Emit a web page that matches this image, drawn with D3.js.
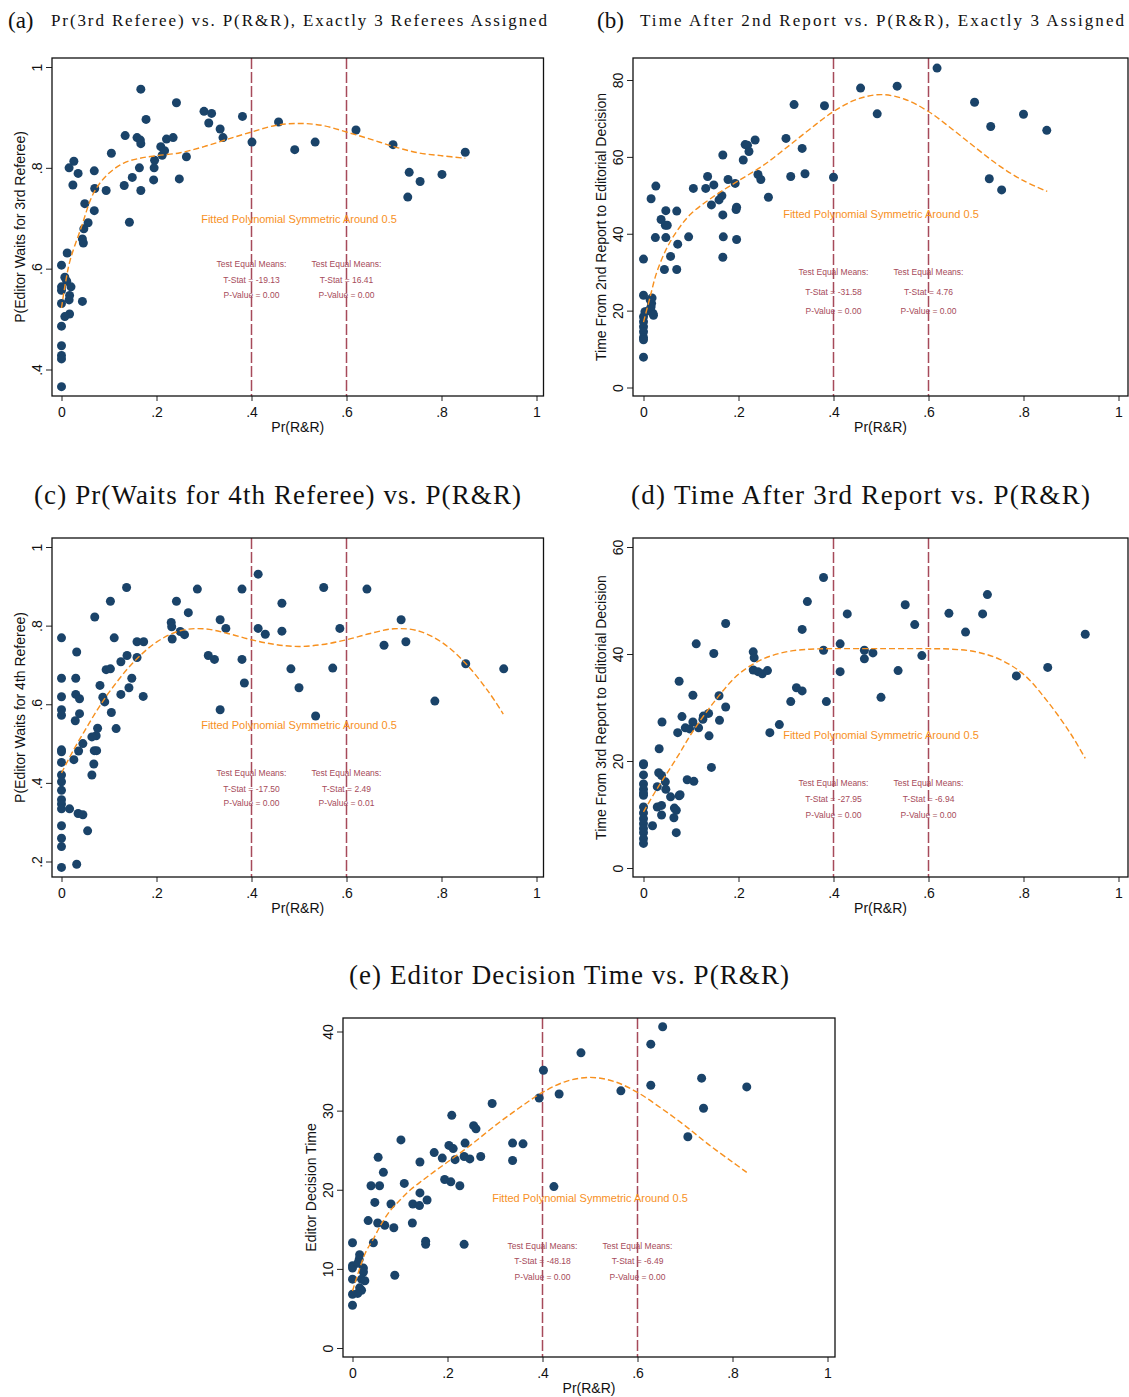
<!DOCTYPE html>
<html>
<head>
<meta charset="utf-8">
<script src="https://cdn.jsdelivr.net/npm/d3@7"></script>
<style>
  body { margin: 0; background: #fff; }
  svg { display: block; }
</style>
</head>
<body>
<svg id="chart" width="1129" height="1397"></svg>
<script>
// ---- Data: [Pr(R&R), outcome] per bin ----
const ptsA = [[0.167,0.956],[0.242,0.929],[0.300,0.912],[0.316,0.908],[0.178,0.896],[0.381,0.902],[0.310,0.889],[0.334,0.877],[0.457,0.891],[0.340,0.860],[0.134,0.864],[0.159,0.860],[0.166,0.855],[0.167,0.848],[0.221,0.857],[0.235,0.860],[0.401,0.851],[0.534,0.851],[0.491,0.836],[0.620,0.875],[0.698,0.846],[0.850,0.831],[0.105,0.829],[0.209,0.842],[0.217,0.834],[0.212,0.825],[0.263,0.822],[0.196,0.815],[0.195,0.800],[0.164,0.800],[0.194,0.776],[0.248,0.778],[0.149,0.781],[0.132,0.765],[0.167,0.755],[0.094,0.755],[0.143,0.692],[0.026,0.813],[0.016,0.800],[0.035,0.789],[0.069,0.794],[0.024,0.766],[0.070,0.759],[0.049,0.729],[0.069,0.715],[0.056,0.691],[0.047,0.679],[0.044,0.659],[0.046,0.651],[0.012,0.631],[0.000,0.607],[0.007,0.583],[0.011,0.575],[0.000,0.564],[0.020,0.564],[0.000,0.557],[0.017,0.547],[0.016,0.538],[0.044,0.535],[0.000,0.531],[0.017,0.510],[0.007,0.505],[0.000,0.486],[0.000,0.447],[0.000,0.428],[0.000,0.421],[0.000,0.366],[0.732,0.791],[0.755,0.773],[0.801,0.787],[0.729,0.742]];

const ptsB = [[0.618,83.1],[0.534,78.4],[0.457,77.9],[0.697,74.2],[0.317,73.6],[0.381,73.3],[0.492,71.2],[0.800,71.1],[0.731,67.9],[0.849,66.9],[0.300,64.8],[0.235,64.4],[0.214,63.2],[0.219,63.0],[0.222,61.4],[0.334,62.2],[0.167,60.5],[0.210,59.2],[0.340,55.6],[0.310,54.9],[0.241,55.4],[0.247,54.1],[0.400,54.7],[0.728,54.3],[0.754,51.4],[0.135,54.9],[0.178,54.1],[0.193,53.1],[0.148,52.7],[0.105,51.8],[0.131,51.8],[0.165,49.9],[0.159,48.8],[0.143,47.5],[0.263,49.5],[0.167,44.9],[0.196,46.9],[0.195,46.3],[0.026,52.4],[0.016,49.1],[0.047,46.0],[0.070,45.9],[0.037,43.7],[0.046,42.2],[0.050,42.2],[0.025,39.0],[0.047,39.0],[0.095,39.2],[0.168,39.2],[0.196,38.5],[0.072,37.3],[0.057,34.1],[0.167,33.9],[0.044,30.7],[0.070,30.7],[0.000,33.4],[0.000,24.0],[0.014,22.8],[0.017,21.9],[0.018,23.3],[0.003,19.7],[0.020,19.3],[0.010,20.0],[0.016,21.0],[0.021,18.8],[0.000,18.4],[0.000,17.1],[0.000,15.8],[0.000,14.5],[0.000,13.0],[0.000,12.4],[0.000,7.9]];

const ptsC = [[0.414,0.931],[0.137,0.897],[0.286,0.893],[0.380,0.893],[0.552,0.897],[0.643,0.893],[0.103,0.862],[0.242,0.862],[0.464,0.857],[0.267,0.833],[0.070,0.822],[0.334,0.815],[0.715,0.815],[0.231,0.808],[0.232,0.797],[0.414,0.793],[0.346,0.793],[0.586,0.793],[0.464,0.786],[0.250,0.785],[0.259,0.777],[0.429,0.778],[0.233,0.766],[0.000,0.769],[0.111,0.769],[0.159,0.759],[0.173,0.759],[0.725,0.759],[0.679,0.750],[0.032,0.733],[0.138,0.724],[0.159,0.719],[0.309,0.724],[0.322,0.714],[0.380,0.714],[0.125,0.708],[0.094,0.688],[0.103,0.690],[0.483,0.690],[0.571,0.692],[0.931,0.690],[0.851,0.703],[0.385,0.654],[0.500,0.642],[0.142,0.642],[0.148,0.666],[0.000,0.666],[0.030,0.666],[0.081,0.648],[0.030,0.625],[0.038,0.614],[0.000,0.619],[0.087,0.618],[0.091,0.606],[0.125,0.625],[0.172,0.620],[0.786,0.608],[0.334,0.586],[0.535,0.570],[0.000,0.586],[0.000,0.572],[0.038,0.576],[0.029,0.558],[0.105,0.579],[0.115,0.538],[0.076,0.539],[0.073,0.520],[0.064,0.517],[0.045,0.500],[0.000,0.484],[0.000,0.479],[0.036,0.481],[0.069,0.482],[0.074,0.482],[0.026,0.459],[0.068,0.448],[0.000,0.452],[0.064,0.420],[0.000,0.420],[0.000,0.403],[0.000,0.381],[0.000,0.357],[0.000,0.346],[0.000,0.334],[0.017,0.334],[0.035,0.322],[0.045,0.319],[0.055,0.278],[0.000,0.291],[0.000,0.259],[0.000,0.238],[0.000,0.185],[0.032,0.193]];

const ptsD = [[0.379,54.3],[0.724,51.1],[0.345,49.8],[0.551,49.2],[0.429,47.5],[0.643,47.6],[0.714,47.5],[0.334,44.6],[0.571,45.5],[0.173,45.7],[0.678,44.1],[0.930,43.7],[0.111,41.9],[0.414,41.9],[0.148,40.1],[0.231,40.4],[0.233,39.3],[0.379,40.7],[0.465,40.7],[0.483,40.2],[0.465,39.1],[0.586,39.7],[0.231,37.0],[0.241,36.7],[0.250,36.3],[0.261,36.9],[0.414,36.7],[0.536,36.9],[0.851,37.5],[0.785,35.9],[0.075,34.9],[0.322,33.7],[0.334,33.1],[0.310,31.1],[0.385,31.1],[0.500,31.9],[0.104,32.3],[0.159,32.2],[0.173,30.1],[0.081,28.3],[0.126,28.4],[0.137,28.9],[0.125,27.8],[0.104,27.3],[0.160,27.6],[0.039,27.3],[0.286,26.8],[0.088,26.2],[0.097,26.0],[0.116,26.2],[0.072,25.3],[0.266,25.3],[0.138,24.7],[0.033,22.3],[0.143,18.8],[0.000,19.5],[0.000,19.3],[0.092,16.5],[0.106,16.2],[0.000,17.4],[0.032,17.8],[0.038,17.3],[0.046,16.1],[0.000,15.7],[0.000,14.7],[0.000,14.0],[0.000,13.6],[0.029,15.2],[0.047,14.7],[0.077,13.7],[0.075,13.5],[0.057,13.3],[0.000,11.4],[0.029,11.4],[0.038,11.7],[0.065,11.2],[0.069,10.8],[0.038,9.9],[0.064,9.4],[0.000,10.3],[0.000,9.2],[0.000,8.3],[0.000,7.4],[0.000,6.6],[0.000,5.5],[0.000,4.6],[0.019,7.9],[0.069,6.6]];

const ptsE = [[0.653,40.6],[0.628,38.4],[0.481,37.3],[0.402,35.1],[0.735,34.1],[0.628,33.2],[0.830,33.0],[0.565,32.5],[0.435,32.1],[0.393,31.6],[0.739,30.3],[0.294,30.9],[0.209,29.4],[0.706,26.7],[0.255,28.1],[0.260,27.7],[0.337,25.9],[0.359,25.8],[0.337,23.7],[0.424,20.4],[0.102,26.3],[0.203,25.6],[0.237,25.9],[0.212,25.2],[0.172,24.7],[0.189,24.0],[0.216,23.8],[0.235,24.2],[0.247,23.9],[0.270,24.2],[0.142,23.5],[0.054,24.1],[0.065,22.2],[0.039,20.5],[0.057,20.5],[0.109,20.8],[0.194,21.3],[0.207,21.0],[0.226,20.5],[0.142,19.6],[0.047,18.4],[0.081,18.2],[0.127,18.2],[0.141,18.0],[0.157,18.7],[0.033,16.1],[0.053,15.8],[0.068,15.5],[0.087,15.2],[0.126,15.8],[0.154,13.5],[0.154,13.1],[0.235,13.1],[0.044,13.3],[0.000,13.3],[0.089,9.2],[0.015,11.8],[0.014,11.2],[0.000,10.4],[0.000,10.1],[0.023,10.1],[0.023,9.6],[0.011,10.7],[0.000,8.7],[0.019,8.7],[0.026,8.5],[0.015,7.6],[0.019,7.3],[0.011,6.9],[0.000,6.8],[0.000,5.4]];

// ---- Fitted polynomial (symmetric around 0.5), sampled along Pr(R&R) ----
const fitA = [[0,0.522],[0.008,0.57],[0.018,0.616],[0.042,0.683],[0.067,0.749],[0.095,0.785],[0.13,0.809],[0.165,0.819],[0.2,0.824],[0.25,0.830],[0.3,0.842],[0.35,0.857],[0.4,0.871],[0.45,0.884],[0.5,0.888],[0.55,0.884],[0.6,0.871],[0.65,0.857],[0.7,0.842],[0.75,0.830],[0.8,0.824],[0.85,0.819]];
const fitB = [[0,17.0],[0.014,23.6],[0.028,30.0],[0.05,36.5],[0.075,41.5],[0.1,45.2],[0.15,49.9],[0.2,53.8],[0.25,57.6],[0.3,62.3],[0.35,67.2],[0.4,71.8],[0.45,75.0],[0.5,76.2],[0.55,75.0],[0.6,71.8],[0.65,67.2],[0.7,62.3],[0.75,57.6],[0.8,53.8],[0.85,51.0]];
const fitC = [[0,0.425],[0.025,0.483],[0.05,0.535],[0.075,0.585],[0.1,0.630],[0.15,0.705],[0.2,0.758],[0.25,0.787],[0.3,0.792],[0.35,0.780],[0.4,0.764],[0.45,0.752],[0.5,0.747],[0.55,0.752],[0.6,0.764],[0.65,0.780],[0.7,0.792],[0.75,0.787],[0.8,0.758],[0.85,0.705],[0.9,0.630],[0.93,0.575]];
const fitD = [[0,10.5],[0.025,14.3],[0.05,17.8],[0.075,21.3],[0.1,25.0],[0.15,31.2],[0.2,36.2],[0.25,39.0],[0.3,40.4],[0.35,40.9],[0.4,41.0],[0.5,41.0],[0.6,41.0],[0.65,40.9],[0.7,40.4],[0.75,39.0],[0.8,36.2],[0.85,31.2],[0.9,25.0],[0.93,20.5]];
const fitE = [[0,7.2],[0.027,12.0],[0.045,13.9],[0.06,15.6],[0.08,17.4],[0.1,18.7],[0.122,20.0],[0.15,21.3],[0.17,22.2],[0.2,23.5],[0.25,25.7],[0.3,28.1],[0.35,30.3],[0.4,32.3],[0.45,33.7],[0.5,34.2],[0.55,33.7],[0.6,32.3],[0.65,30.3],[0.7,28.1],[0.75,25.7],[0.8,23.5],[0.83,22.2]];

// ---- Test statistics at the 0.4 / 0.6 cut-offs ----
const tStatA = ["-19.13", "16.41"], pValA = ["0.00", "0.00"];
const tStatB = ["-31.58", "4.76"],  pValB = ["0.00", "0.00"];
const tStatC = ["-17.50", "2.49"],  pValC = ["0.00", "0.01"];
const tStatD = ["-27.95", "-6.94"], pValD = ["0.00", "0.00"];
const tStatE = ["-48.18", "-6.49"], pValE = ["0.00", "0.00"];

// ---- Tick labels ----
const xTicks = [0, 0.2, 0.4, 0.6, 0.8, 1];
const cutoffs = [0.4, 0.6];
const ticksA = [0.4, 0.6, 0.8, 1];
const ticksB = [0, 20, 40, 60, 80];
const ticksC = [0.2, 0.4, 0.6, 0.8, 1];
const ticksD = [0, 20, 40, 60];
const ticksE = [0, 10, 20, 30, 40];

const shareFmt = v => v === 0 ? "0" : v === 1 ? "1" : String(+v.toFixed(2)).replace(/^0/, "");
const intFmt = v => String(v);

const NAVY = "#1a4369", ORANGE = "#f7901e", MAROON = "#a64a5a";
const SANS = "'Liberation Sans', Arial, Helvetica, sans-serif";
const SERIF = "'Liberation Serif', 'Times New Roman', serif";

const svg = d3.select("#chart");

const panels = [
  { pts: ptsA, fit: fitA, t: tStatA, p: pValA, yTicks: ticksA, yFmt: shareFmt,
    yLabel: "P(Editor Waits for 3rd Referee)", xRange: [61.5, 536.5], frameX: [52, 543.5], frameY: [58, 396],
    yDomain: [0.4, 1], yRange: [369.5, 67], labelY: [0.698, 0.609, 0.577, 0.547] },
  { pts: ptsB, fit: fitB, t: tStatB, p: pValB, yTicks: ticksB, yFmt: intFmt,
    yLabel: "Time From 2nd Report to Editorial Decision", xRange: [643.5, 1118.5], frameX: [633, 1128], frameY: [58, 396],
    yDomain: [0, 80], yRange: [387.5, 80], labelY: [45.1, 30.0, 24.8, 19.9] },
  { pts: ptsC, fit: fitC, t: tStatC, p: pValC, yTicks: ticksC, yFmt: shareFmt,
    yLabel: "P(Editor Waits for 4th Referee)", xRange: [61.5, 536.5], frameX: [52, 543.5], frameY: [538, 877],
    yDomain: [0.2, 1], yRange: [861.5, 547], labelY: [0.546, 0.426, 0.385, 0.348] },
  { pts: ptsD, fit: fitD, t: tStatD, p: pValD, yTicks: ticksD, yFmt: intFmt,
    yLabel: "Time From 3rd Report to Editorial Decision", xRange: [643.5, 1118.5], frameX: [633, 1128], frameY: [538, 877],
    yDomain: [0, 60], yRange: [868, 547], labelY: [24.8, 15.8, 12.8, 9.9] },
  { pts: ptsE, fit: fitE, t: tStatE, p: pValE, yTicks: ticksE, yFmt: intFmt,
    yLabel: "Editor Decision Time", xRange: [352.5, 827.5], frameX: [343, 835], frameY: [1018, 1357],
    yDomain: [0, 40], yRange: [1348, 1031.5], labelY: [19.0, 12.9, 11.0, 9.0] }
];

function drawPanel(cfg) {
  const g = svg.append("g");
  const x = d3.scaleLinear().domain([0, 1]).range(cfg.xRange);
  const y = d3.scaleLinear().domain(cfg.yDomain).range(cfg.yRange);
  const [fl, fr] = cfg.frameX, [ft, fb] = cfg.frameY;

  // x axis
  const gx = g.append("g").attr("transform", `translate(0,${fb})`)
    .call(d3.axisBottom(x).tickValues(xTicks).tickFormat(shareFmt).tickSize(5).tickSizeOuter(0));
  gx.select(".domain").remove();
  gx.selectAll(".tick line").attr("stroke", "#222").attr("stroke-width", 1);
  gx.selectAll(".tick text").attr("dy", null).attr("y", 21)
    .attr("font-family", SANS).attr("font-size", 14).attr("fill", "#111");

  // y axis (rotated tick labels)
  const gy = g.append("g").attr("transform", `translate(${fl},0)`)
    .call(d3.axisLeft(y).tickValues(cfg.yTicks).tickFormat(cfg.yFmt).tickSize(6).tickSizeOuter(0));
  gy.select(".domain").remove();
  gy.selectAll(".tick line").attr("stroke", "#222").attr("stroke-width", 1);
  gy.selectAll(".tick text").attr("x", null).attr("dy", null)
    .attr("text-anchor", "middle").attr("transform", "translate(-10,0) rotate(-90)")
    .attr("font-family", SANS).attr("font-size", 14).attr("fill", "#111");

  // axis titles
  g.append("text").attr("x", (fl + fr) / 2).attr("y", fb + 36)
    .attr("text-anchor", "middle").attr("font-family", SANS).attr("font-size", 14).attr("fill", "#111")
    .text("Pr(R&R)");
  g.append("text").attr("transform", `translate(${fl - 27},${(ft + fb) / 2}) rotate(-90)`)
    .attr("text-anchor", "middle").attr("font-family", SANS).attr("font-size", 14).attr("fill", "#111")
    .text(cfg.yLabel);

  // cut-off lines
  g.selectAll(".cut").data(cutoffs).join("line")
    .attr("x1", d => x(d)).attr("x2", d => x(d)).attr("y1", ft).attr("y2", fb)
    .attr("stroke", MAROON).attr("stroke-width", 1.5).attr("stroke-dasharray", "11,3");

  // binned scatter
  g.selectAll(".pt").data(cfg.pts).join("circle")
    .attr("cx", d => x(d[0])).attr("cy", d => y(d[1])).attr("r", 4.5).attr("fill", NAVY);

  // fitted polynomial
  g.append("path").datum(cfg.fit)
    .attr("d", d3.line().x(d => x(d[0])).y(d => y(d[1])).curve(d3.curveCatmullRom))
    .attr("fill", "none").attr("stroke", ORANGE).attr("stroke-width", 1.4).attr("stroke-dasharray", "6,3");

  // annotations
  g.append("text").attr("x", x(0.5)).attr("y", y(cfg.labelY[0])).attr("dy", "0.35em")
    .attr("text-anchor", "middle").attr("font-family", SANS).attr("font-size", 11).attr("fill", ORANGE)
    .text("Fitted Polynomial Symmetric Around 0.5");
  cutoffs.forEach((c, i) => {
    const lines = ["Test Equal Means:", `T-Stat = ${cfg.t[i]}`, `P-Value = ${cfg.p[i]}`];
    lines.forEach((s, j) => {
      g.append("text").attr("x", x(c)).attr("y", y(cfg.labelY[j + 1])).attr("dy", "0.35em")
        .attr("text-anchor", "middle").attr("font-family", SANS).attr("font-size", 8.5).attr("fill", MAROON)
        .text(s);
    });
  });

  // plot frame
  g.append("rect").attr("x", fl).attr("y", ft).attr("width", fr - fl).attr("height", fb - ft)
    .attr("fill", "none").attr("stroke", "#111").attr("stroke-width", 1.3);
}

panels.forEach(drawPanel);

// ---- Panel titles ----
function smallTitle(tag, tagX, rest, restX, restEnd) {
  svg.append("text").attr("x", tagX).attr("y", 28).attr("font-family", SERIF).attr("font-size", 23)
    .attr("fill", "#111").text(tag);
  svg.append("text").attr("x", restX).attr("y", 26).attr("font-family", SERIF).attr("font-size", 17)
    .attr("fill", "#111").attr("textLength", restEnd - restX).attr("lengthAdjust", "spacing").text(rest);
}
smallTitle("(a)", 8, "Pr(3rd Referee) vs. P(R&R), Exactly 3 Referees Assigned", 51, 547);
smallTitle("(b)", 597, "Time After 2nd Report vs. P(R&R), Exactly 3 Assigned", 640, 1124);

function bigTitle(txt, x0, x1, base) {
  svg.append("text").attr("x", x0).attr("y", base).attr("font-family", SERIF).attr("font-size", 27)
    .attr("fill", "#111").attr("textLength", x1 - x0).attr("lengthAdjust", "spacing").text(txt);
}
bigTitle("(c) Pr(Waits for 4th Referee) vs. P(R&R)", 34, 521, 504);
bigTitle("(d) Time After 3rd Report vs. P(R&R)", 631, 1090, 504);
bigTitle("(e) Editor Decision Time vs. P(R&R)", 349, 789, 984);
</script>
</body>
</html>
